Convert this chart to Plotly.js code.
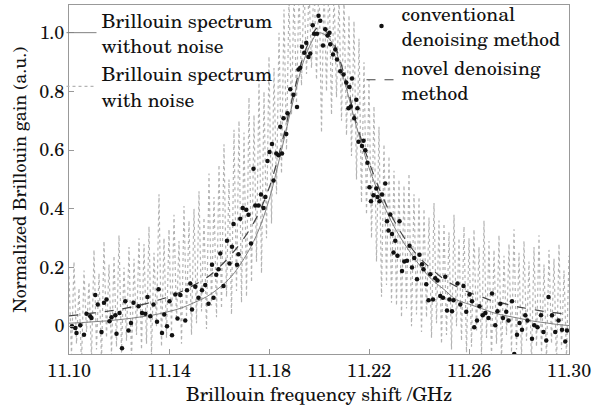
<!DOCTYPE html>
<html><head><meta charset="utf-8">
<script src="https://cdn.plot.ly/plotly-3.0.1.min.js"></script>
<style>html,body{margin:0;padding:0;background:#fff}#chart{width:608px;height:407px}
#chart text{font-family:"TeX Gyre Schola","Century Schoolbook L","DejaVu Serif",serif !important;}</style>
</head><body><div id="chart"></div>
<script>
// Smooth curves, sampled every 0.005 GHz from 11.100 to 11.300
var curveX = [11.100,11.105,11.110,11.115,11.120,11.125,11.130,11.135,11.140,11.145,11.150,11.155,11.160,11.165,11.170,11.175,11.180,11.185,11.190,11.195,11.200,11.205,11.210,11.215,11.220,11.225,11.230,11.235,11.240,11.245,11.250,11.255,11.260,11.265,11.270,11.275,11.280,11.285,11.290,11.295,11.300];
var withoutNoise = [0.010,0.012,0.015,0.018,0.022,0.027,0.033,0.040,0.050,0.062,0.080,0.100,0.130,0.170,0.230,0.310,0.430,0.600,0.780,0.930,1.000,0.970,0.840,0.680,0.540,0.430,0.340,0.270,0.210,0.160,0.125,0.090,0.075,0.060,0.045,0.035,0.027,0.018,0.012,0.006,0.002];
var novelMethod = [0.035,0.040,0.045,0.050,0.057,0.065,0.075,0.087,0.100,0.118,0.140,0.165,0.200,0.245,0.300,0.370,0.470,0.620,0.800,0.950,1.020,0.980,0.860,0.690,0.560,0.450,0.360,0.290,0.235,0.195,0.160,0.135,0.115,0.100,0.085,0.075,0.065,0.058,0.050,0.045,0.040];

// Noisy spectrum, sampled every 0.001 GHz from 11.100 to 11.300
var noiseStart = 11.100, noiseStep = 0.001;
var withNoise = [
0.17,-0.10,0.22,-0.06,0.13,-0.13,0.19,-0.02,0.15,-0.11,
0.26,-0.08,0.18,-0.12,0.29,-0.04,0.21,-0.10,0.24,-0.07,
0.31,-0.09,0.20,-0.05,0.27,-0.12,0.23,-0.03,0.30,-0.08,
0.28,-0.06,0.34,-0.10,0.25,0.00,0.45,-0.07,0.30,-0.04,
0.33,-0.02,0.38,0.02,0.29,-0.06,0.41,0.03,0.36,-0.03,
0.40,0.01,0.46,0.05,0.37,-0.01,0.52,0.07,0.44,0.03,
0.55,0.06,0.62,0.10,0.50,0.04,0.67,0.12,0.70,0.08,
0.66,0.10,0.78,0.15,0.72,0.22,0.84,0.18,0.80,0.30,
0.92,0.35,0.88,0.45,1.00,0.52,1.08,0.60,1.12,0.72,
1.15,0.76,1.14,0.82,1.18,0.86,1.16,0.88,1.20,0.84,
1.19,0.66,1.17,0.80,1.20,0.72,1.15,0.78,1.13,0.70,
1.12,0.65,1.06,0.58,1.04,0.50,0.98,0.42,0.90,0.38,
0.84,0.30,0.75,0.22,0.68,0.10,0.62,0.14,0.58,0.08,
0.53,0.07,0.50,0.03,0.48,0.06,0.52,0.00,0.45,0.04,
0.44,-0.02,0.40,0.03,0.37,-0.04,0.42,0.01,0.36,-0.06,
0.35,-0.03,0.32,-0.08,0.38,0.00,0.30,-0.05,0.34,-0.09,
0.30,-0.07,0.33,-0.02,0.27,-0.10,0.36,-0.04,0.29,-0.11,
0.26,-0.06,0.31,-0.12,0.24,-0.03,0.28,-0.09,0.33,-0.08,
0.25,-0.11,0.29,-0.05,0.22,-0.13,0.27,-0.07,0.31,-0.10,
0.21,-0.12,0.26,-0.06,0.23,-0.14,0.28,-0.08,0.19,-0.11,
0.24];

// Conventional denoising method (points)
var convX = [11.1012,11.1025,11.1045,11.1030,11.1060,11.1070,11.1085,11.1090,11.1105,11.1115,11.1130,11.1140,11.1150,11.1162,11.1170,11.1185,11.1190,11.1202,11.1212,11.1225,11.1238,11.1248,11.1258,11.1278,11.1292,11.1305,11.1314,11.1325,11.1338,11.1352,11.1358,11.1372,11.1381,11.1392,11.1402,11.1412,11.1425,11.1434,11.1445,11.1465,11.1472,11.1485,11.1492,11.1505,11.1518,11.1532,11.1545,11.1558,11.1572,11.1578,11.1589,11.1598,11.1605,11.1618,11.1632,11.1642,11.1652,11.1658,11.1672,11.1678,11.1685,11.1695,11.1709,11.1718,11.1728,11.1738,11.1745,11.1758,11.1768,11.1778,11.1785,11.1794,11.1802,11.1812,11.1818,11.1829,11.1838,11.1845,11.1852,11.1869,
11.1858,11.1874,11.1885,11.1898,11.1912,11.1918,11.1925,11.1932,11.1941,11.1949,11.1958,11.1965,11.1975,11.1981,11.1992,11.1998,11.2005,11.2016,11.2025,11.2034,11.2042,11.2045,11.2056,11.2065,11.2072,11.2085,11.2098,11.2109,11.2122,11.2132,11.2118,11.2127,11.2141,11.2149,11.2154,
11.2158,11.2172,11.2178,11.2185,11.2194,11.2202,11.2208,11.2218,11.2229,11.2234,11.2242,11.2252,11.2265,11.2272,11.2285,11.2278,11.2292,11.2305,11.2322,11.2298,11.2314,11.2332,11.2341,11.2352,11.2362,11.2372,11.2381,11.2392,11.2402,11.2412,11.2418,11.2429,11.2438,11.2445,11.2456,11.2465,11.2474,11.2485,11.2496,11.2505,11.2512,11.2522,11.2532,11.2538,11.2554,11.2565,11.2578,11.2589,11.2602,11.2612,11.2621,11.2632,11.2642,11.2655,11.2665,11.2678,11.2692,11.2705,11.2714,11.2725,11.2736,11.2749,11.2758,11.2772,11.2781,11.2792,11.2802,11.2812,11.2825,11.2834,11.2852,11.2861,11.2874,11.2888,11.2898,11.2909,11.2918,11.2932,11.2945,11.2958,11.2972,11.2985,11.2992];
var convY = [0.000,-0.006,0.003,-0.023,-0.029,0.042,0.034,0.028,0.106,0.074,-0.020,0.080,0.091,0.017,0.030,0.037,-0.026,0.045,-0.075,0.085,-0.015,0.011,0.080,0.068,0.045,0.042,0.099,0.034,0.074,0.015,0.126,-0.023,0.040,0.000,0.085,-0.031,0.108,0.026,0.106,0.019,0.122,0.145,0.057,0.134,0.097,0.122,0.140,0.076,0.209,0.097,0.175,0.194,0.248,0.137,0.291,0.214,0.271,0.348,0.209,0.245,0.366,0.403,0.397,0.380,0.282,0.537,0.411,0.411,0.449,0.403,0.440,0.563,0.594,0.621,0.497,0.589,0.583,0.680,0.589,0.655,
0.709,0.726,0.808,0.789,0.747,0.875,0.881,0.953,0.932,0.966,0.918,0.930,1.026,0.997,0.997,1.058,1.041,0.957,1.012,0.991,1.000,0.961,0.926,0.943,0.909,0.869,0.858,0.831,0.815,0.844,0.743,0.749,0.709,0.772,0.743,
0.629,0.614,0.632,0.600,0.557,0.474,0.426,0.446,0.469,0.440,0.426,0.449,0.486,0.358,0.381,0.326,0.314,0.291,0.358,0.251,0.240,0.188,0.220,0.223,0.274,0.200,0.232,0.160,0.243,0.211,0.194,0.143,0.088,0.177,0.091,0.163,0.156,0.103,0.097,0.168,0.053,0.091,0.051,0.088,0.145,0.074,0.137,0.049,0.108,0.085,-0.004,0.019,0.068,0.037,0.045,0.028,0.111,0.003,0.051,0.076,0.028,0.049,0.019,0.085,-0.095,-0.029,0.011,-0.012,0.037,0.019,-0.043,0.003,-0.004,0.037,-0.020,-0.049,0.099,0.037,-0.020,0.019,-0.012,-0.052,-0.015];

var xTicks = [11.10,11.14,11.18,11.22,11.26,11.30];
var xTickText = ['11.10','11.14','11.18','11.22','11.26','11.30'];
var yTicks = [0,0.2,0.4,0.6,0.8,1.0];
var yTickText = ['0','0.2','0.4','0.6','0.8','1.0'];

var noiseX = withNoise.map(function(_, i){ return +(noiseStart + i*noiseStep).toFixed(3); });

var FONT = 'TeX Gyre Schola';
var traces = [
  {x: noiseX, y: withNoise, type: 'scatter', mode: 'lines', name: 'Brillouin spectrum<br>with noise',
   line: {color: '#b4b4b4', width: 1.2, dash: 'dot'}, legend: 'legend', legendrank: 2},
  {x: curveX, y: withoutNoise, type: 'scatter', mode: 'lines', name: 'Brillouin spectrum<br>without noise',
   line: {color: '#808080', width: 1, shape: 'spline'}, legend: 'legend', legendrank: 1},
  {x: curveX, y: novelMethod, type: 'scatter', mode: 'lines', name: 'novel denoising<br>method',
   line: {color: '#444', width: 1.2, dash: 'dash', shape: 'spline'}, legend: 'legend2', legendrank: 2},
  {x: convX, y: convY, type: 'scatter', mode: 'markers', name: 'conventional<br>denoising method',
   marker: {color: '#111', size: 4.5}, legend: 'legend2', legendrank: 1}
];

var layout = {
  width: 608, height: 407,
  margin: {l: 69, r: 39, t: 5, b: 53, autoexpand: false},
  paper_bgcolor: '#fff', plot_bgcolor: '#fff',
  font: {family: FONT, color: '#111', size: 18},
  showlegend: true,
  xaxis: {range: [11.10, 11.30], tickvals: xTicks, ticktext: xTickText,
    ticks: 'inside', ticklen: 5, tickcolor: '#999', showline: true, linecolor: '#999', linewidth: 1, mirror: true,
    showgrid: false, zeroline: false, tickfont: {family: FONT, size: 18},
    title: {text: 'Brillouin frequency shift /GHz', font: {family: FONT, size: 19}, standoff: 5}},
  yaxis: {range: [-0.095, 1.095], tickvals: yTicks, ticktext: yTickText,
    ticks: 'inside', ticklen: 5, tickcolor: '#999', showline: true, linecolor: '#999', linewidth: 1, mirror: true,
    showgrid: false, zeroline: false, tickfont: {family: FONT, size: 18},
    title: {text: 'Normalized Brillouin gain (a.u.)', font: {family: FONT, size: 18}, standoff: 8}},
  legend: {x: -0.015, y: 1.012, xanchor: 'left', yanchor: 'top', bgcolor: 'rgba(0,0,0,0)',
    font: {family: FONT, size: 19.5}, itemwidth: 30, tracegroupgap: 0},
  legend2: {x: 0.585, y: 1.031, xanchor: 'left', yanchor: 'top', bgcolor: 'rgba(0,0,0,0)',
    font: {family: FONT, size: 19.5}, itemwidth: 30, tracegroupgap: 0}
};

Plotly.newPlot('chart', traces, layout, {displayModeBar: false, staticPlot: true});
</script>
</body></html>
